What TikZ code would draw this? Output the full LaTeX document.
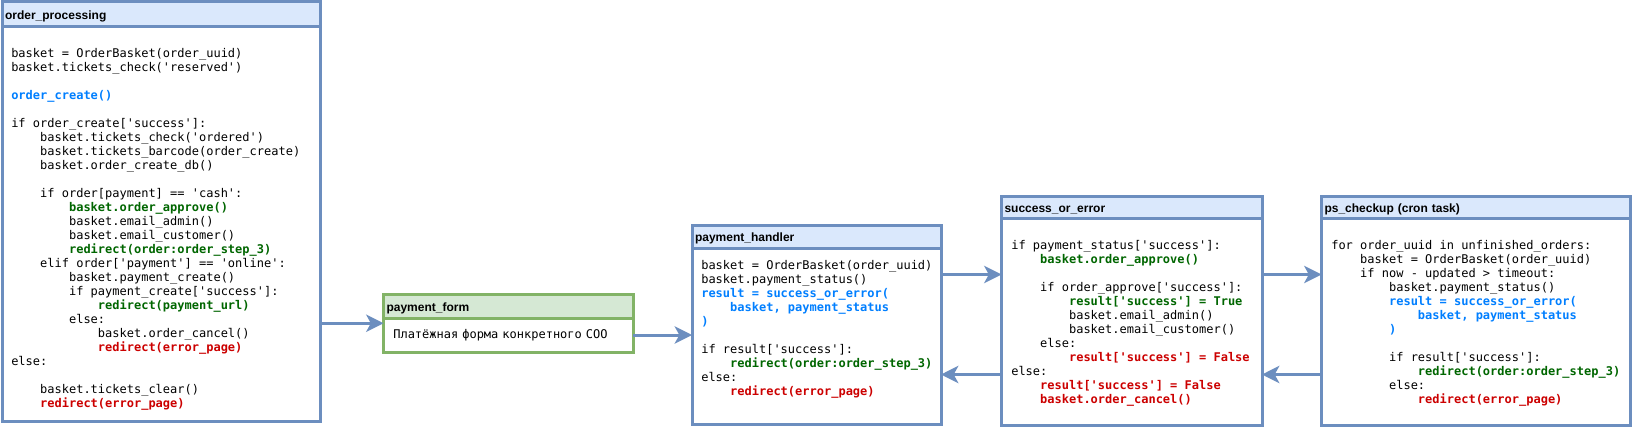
\documentclass[tikz,border=0pt]{standalone}
\usepackage{fontspec}
\setsansfont{Liberation Sans}
\setmonofont{DejaVu Sans Mono}
\usetikzlibrary{arrows.meta,calc}

\definecolor{boxblue}{HTML}{6C8EBF}
\definecolor{headblue}{HTML}{DAE8FC}
\definecolor{boxgreen}{HTML}{82B366}
\definecolor{headgreen}{HTML}{D5E8D4}
\definecolor{codeblue}{HTML}{007FFF}
\definecolor{codegreen}{HTML}{006600}
\definecolor{codered}{HTML}{CC0000}

\newcommand{\codefont}{\ttfamily\fontsize{9}{10.5}\selectfont}
\newcommand{\headfont}{\sffamily\bfseries\fontsize{9}{10.5}\selectfont}
\newcommand{\lvl}[1]{\hspace*{#1\dimexpr 2.408em\relax}}
\newcommand{\callline}[1]{\textcolor{codeblue}{\bfseries #1}}
\newcommand{\okline}[1]{\textcolor{codegreen}{\bfseries #1}}
\newcommand{\errline}[1]{\textcolor{codered}{\bfseries #1}}

\tikzset{
  box/.style={draw=boxblue, line width=2.25pt, fill=white, anchor=north west, inner sep=0pt, outer sep=0pt},
  head/.style={draw=boxblue, line width=2.25pt, fill=headblue, anchor=north west, inner xsep=2.25pt, inner ysep=0pt, outer sep=0pt, align=left, font=\headfont, text height=8pt, text depth=0.5pt},
  greenbox/.style={box, draw=boxgreen},
  greenhead/.style={head, draw=boxgreen, fill=headgreen},
  code/.style={anchor=north west, inner sep=0pt, align=left, font=\codefont, execute at begin node=\strut},
  arr/.style={draw=boxblue, line width=2.25pt, -{Stealth[length=13pt,width=13pt,inset=3.5pt]}}
}

\begin{document}
\begin{tikzpicture}[x=0.75pt,y=-0.75pt]
\useasboundingbox (0,0) rectangle (1633,428);

% order_processing
\node[box, minimum width=238.5pt, minimum height=314.25pt] (op) at (2,2) {};
\node[head, minimum width=238.5pt, minimum height=18.75pt, text width=234pt] (ophead) at (2,2) {order\_processing};
\node[code] (optext) at (11,48) {basket = OrderBasket(order\_uuid)\\
basket.tickets\_check('reserved')\\
\mbox{}\\
\callline{order\_create()}\\
\mbox{}\\
if order\_create['success']:\\
\lvl{1}basket.tickets\_check('ordered')\\
\lvl{1}basket.tickets\_barcode(order\_create)\\
\lvl{1}basket.order\_create\_db()\\
\mbox{}\\
\lvl{1}if order[payment] == 'cash':\\
\lvl{2}\okline{basket.order\_approve()}\\
\lvl{2}basket.email\_admin()\\
\lvl{2}basket.email\_customer()\\
\lvl{2}\okline{redirect(order:order\_step\_3)}\\
\lvl{1}elif order['payment'] == 'online':\\
\lvl{2}basket.payment\_create()\\
\lvl{2}if payment\_create['success']:\\
\lvl{3}\okline{redirect(payment\_url)}\\
\lvl{2}else:\\
\lvl{3}basket.order\_cancel()\\
\lvl{3}\errline{redirect(error\_page)}\\
else:\\
\mbox{}\\
\lvl{1}basket.tickets\_clear()\\
\lvl{1}\errline{redirect(error\_page)}};

% payment_form
\node[greenbox, minimum width=187.125pt, minimum height=43.125pt] (pf) at (383.5,294.5) {};
\node[greenhead, minimum width=187.125pt, minimum height=17.625pt, text width=182.625pt] (pfhead) at (383.5,294.5) {payment\_form};
\node[anchor=north west, inner xsep=7.35pt, inner ysep=0pt, outer sep=0pt, minimum width=187.125pt, minimum height=25.5pt, text width=172.425pt, align=left, font=\codefont] (pfbody) at (383.5,318) {Платёжная форма конкретного СОО};

% payment_handler
\node[box, minimum width=186.75pt, minimum height=149.25pt] (ph) at (692,225) {};
\node[head, minimum width=186.75pt, minimum height=17.25pt, text width=182.25pt] (phhead) at (692,225) {payment\_handler};
\node[code] (phtext) at (701,260) {basket = OrderBasket(order\_uuid)\\
basket.payment\_status()\\
\callline{result = success\_or\_error(}\\
\lvl{1}\callline{basket, payment\_status}\\
\callline{)}\\
\mbox{}\\
if result['success']:\\
\lvl{1}\okline{redirect(order:order\_step\_3)}\\
else:\\
\lvl{1}\errline{redirect(error\_page)}};

% success_or_error
\node[box, minimum width=195.375pt, minimum height=171.75pt] (se) at (1001.5,196) {};
\node[head, minimum width=195.375pt, minimum height=16.5pt, text width=190.875pt] (sehead) at (1001.5,196) {success\_or\_error};
\node[code] (setext) at (1011,239.7) {if payment\_status['success']:\\
\lvl{1}\okline{basket.order\_approve()}\\
\mbox{}\\
\lvl{1}if order\_approve['success']:\\
\lvl{2}\okline{result['success'] = True}\\
\lvl{2}basket.email\_admin()\\
\lvl{2}basket.email\_customer()\\
\lvl{1}else:\\
\lvl{2}\errline{result['success'] = False}\\
else:\\
\lvl{1}\errline{result['success'] = False}\\
\lvl{1}\errline{basket.order\_cancel()}};

% ps_checkup
\node[box, minimum width=231.75pt, minimum height=171.75pt] (ps) at (1321.5,196) {};
\node[head, minimum width=231.75pt, minimum height=16.5pt, text width=227.25pt] (pshead) at (1321.5,196) {ps\_checkup (cron task)};
\node[code] (pstext) at (1331,239.7) {for order\_uuid in unfinished\_orders:\\
\lvl{1}basket = OrderBasket(order\_uuid)\\
\lvl{1}if now - updated > timeout:\\
\lvl{2}basket.payment\_status()\\
\lvl{2}\callline{result = success\_or\_error(}\\
\lvl{3}\callline{basket, payment\_status}\\
\lvl{2}\callline{)}\\
\mbox{}\\
\lvl{2}if result['success']:\\
\lvl{3}\okline{redirect(order:order\_step\_3)}\\
\lvl{2}else:\\
\lvl{3}\errline{redirect(error\_page)}};

% connectors
\coordinate (phout) at ($(ph.east)+(0,-50)$);
\coordinate (phin) at ($(ph.east)+(0,50)$);
\draw[arr] (op.east |- pf.west) -- (pf.west);
\draw[arr] (pfbody.east) -- (pfbody.east -| ph.west);
\draw[arr] (phout) -- (phout -| se.west);
\draw[arr] (phin -| se.west) -- (phin);
\draw[arr] (phout -| se.east) -- (phout -| ps.west);
\draw[arr] (phin -| ps.west) -- (phin -| se.east);

\end{tikzpicture}
\end{document}
